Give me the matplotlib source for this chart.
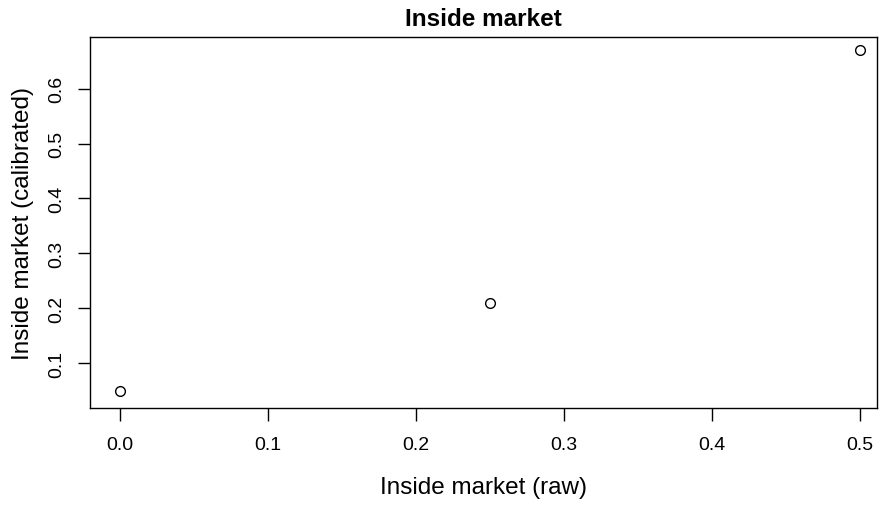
import numpy as np
import matplotlib
matplotlib.use("Agg")
import matplotlib.pyplot as plt

plt.rcParams['font.family'] = ['Liberation Sans', 'DejaVu Sans']

# data
raw = [0.0, 0.25, 0.5]
calibrated = [0.05, 0.21, 0.67]
xticks = [0.0, 0.1, 0.2, 0.3, 0.4, 0.5]
yticks = [0.1, 0.2, 0.3, 0.4, 0.5, 0.6]

fig = plt.figure(figsize=(8.89, 5.06), dpi=100)
ax = fig.add_axes([90/889, 1-409/506, (877-90)/889, (409-38)/506])

ax.plot(raw, calibrated, 'o', mfc='white', mec='black', ms=7, mew=1.0)

ax.set_xlim(-0.0201, 0.5115)
ax.set_ylim(0.0185, 0.694)
ax.set_xticks(xticks)
ax.set_xticklabels(['%.1f' % v for v in xticks])
ax.set_yticks(yticks)
ax.set_yticklabels(['%.1f' % v for v in yticks], rotation=90, va='center')

ax.tick_params(direction='out', length=9, width=1, labelsize=14)
ax.tick_params(axis='x', pad=11)
ax.tick_params(axis='y', pad=9)
for s in ax.spines.values():
    s.set_linewidth(1.0)

ax.set_title('Inside market', fontsize=17.5, fontweight='bold', pad=9)
ax.set_xlabel('Inside market (raw)', fontsize=17.5, labelpad=17)
ax.set_ylabel('Inside market (calibrated)', fontsize=17.5, labelpad=10)

fig.savefig('out.png', dpi=100)
